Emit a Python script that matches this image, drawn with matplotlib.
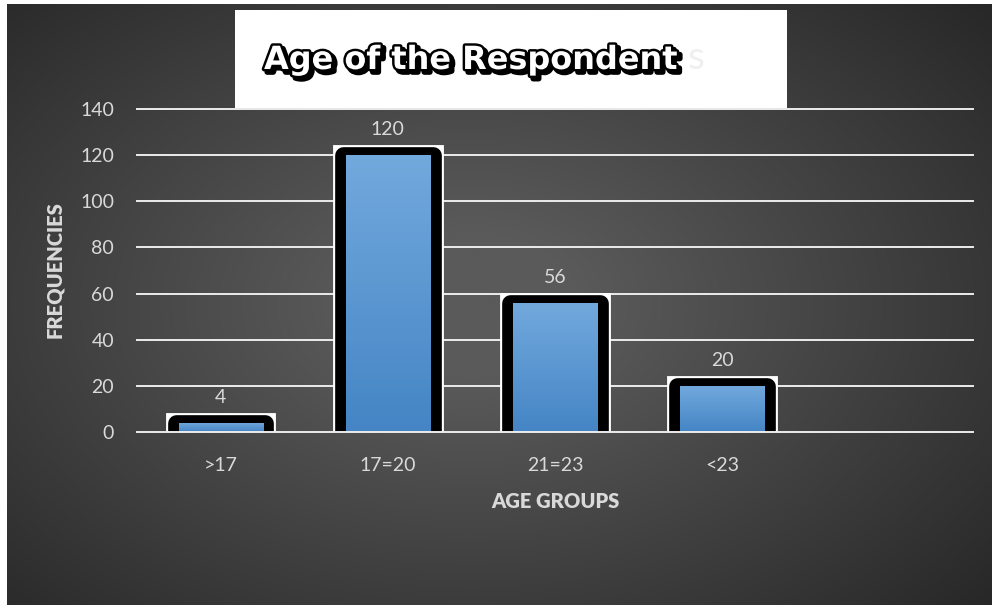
import numpy as np
import matplotlib

matplotlib.use("Agg")
import matplotlib.pyplot as plt
import matplotlib.patheffects as pe
from matplotlib.patches import Rectangle
from matplotlib.colors import LinearSegmentedColormap

# Дані: вікові групи респондентів
age_groups = [">17", "17=20", "21=23", "<23"]
frequencies = [4, 120, 56, 20]
y_ticks = [0, 20, 40, 60, 80, 100, 120, 140]

TXT = "#d9d9d9"
FONT = ["Lato", "DejaVu Sans"]

W, H = 992, 605
fig = plt.figure(figsize=(W / 100, H / 100), dpi=100, facecolor="white")

# Темний радіальний фон
bg = fig.add_axes([7 / W, 0, (W - 7) / W, (H - 4) / H], zorder=-10)
yy, xx = np.mgrid[0:1:300j, 0:1:500j]
r = np.sqrt(((xx - 0.47) / 0.75) ** 2 + ((yy - 0.5) / 0.8) ** 2)
shade = np.clip(1 - r, 0, 1)
bg_cmap = LinearSegmentedColormap.from_list("bg", ["#242424", "#5a5a5a"])
bg.imshow(shade, cmap=bg_cmap, aspect="auto", extent=(0, 1, 0, 1), vmin=0, vmax=0.85)
bg.axis("off")

ax = fig.add_axes([137 / W, (H - 432) / H, 836 / W, 323 / H])
ax.set_facecolor("none")
for s in ax.spines.values():
    s.set_visible(False)

x = np.arange(len(age_groups))

# біла рамка, чорна заокруглена обводка, синій стовпчик
ax.bar(x, frequencies, width=0.535, color="white", edgecolor="white",
       linewidth=15, joinstyle="miter", zorder=2)
ax.bar(x, frequencies, width=0.535, color="black", edgecolor="black",
       linewidth=12, joinstyle="round", zorder=3)
blue = ax.bar(x, frequencies, width=0.503, color="#5b97d3", linewidth=0, zorder=4)

grad = LinearSegmentedColormap.from_list("bar", ["#4585c5", "#72a9dd"])
for b in blue:
    im = ax.imshow(np.linspace(0, 1, 64).reshape(-1, 1), cmap=grad, aspect="auto",
                   origin="lower", zorder=4.5,
                   extent=(b.get_x(), b.get_x() + b.get_width(), 0, b.get_height()))
    im.set_clip_path(b)

for xi, v in zip(x, frequencies):
    ax.annotate(str(v), (xi, v), xytext=(0, 18.5), textcoords="offset points",
                ha="center", va="center", color=TXT, fontsize=14, family=FONT)

# сітка
for t in y_ticks:
    ax.axhline(t, color="#ececec", linewidth=1.4, zorder=1 if t else 6, clip_on=False)

ax.set_xlim(-0.5, 4.5)
ax.set_ylim(0, 140)
ax.set_yticks(y_ticks)
ax.set_xticks(x)
ax.set_xticklabels(age_groups)
ax.tick_params(axis="both", length=0, colors=TXT, labelsize=14)
ax.tick_params(axis="y", pad=16.5)
ax.tick_params(axis="x", pad=18)
for lab in ax.get_xticklabels() + ax.get_yticklabels():
    lab.set_family(FONT)

fig.text(55 / W, 1 - 270 / H, "FREQUENCIES", rotation=90, ha="center", va="center",
         color=TXT, fontsize=14.5, fontweight="heavy", family=FONT)
fig.text(555 / W, 1 - 501 / H, "AGE GROUPS", ha="center", va="center",
         color=TXT, fontsize=14.5, fontweight="heavy", family=FONT)

# заголовок у білій плашці
fig.patches.append(Rectangle((235 / W, 1 - 108 / H), 552 / W, 98 / H,
                             transform=fig.transFigure, facecolor="white",
                             edgecolor="none", zorder=5))
title = fig.text(264 / W, 1 - 69 / H, "Age of the Respondent", ha="left", va="baseline",
                 color="white", fontsize=23, fontweight="bold", family="DejaVu Sans",
                 zorder=6)
title.set_path_effects([
    pe.Stroke(offset=(2.2, -2.2), linewidth=4, foreground="black"),
    pe.Stroke(linewidth=3.5, foreground="black"),
    pe.Normal(),
])
fig.text(688 / W, 1 - 69 / H, "s", ha="left", va="baseline", color="#efefef",
         fontsize=28, family=FONT, zorder=6)

fig.savefig("out.png", dpi=100, facecolor="white")
